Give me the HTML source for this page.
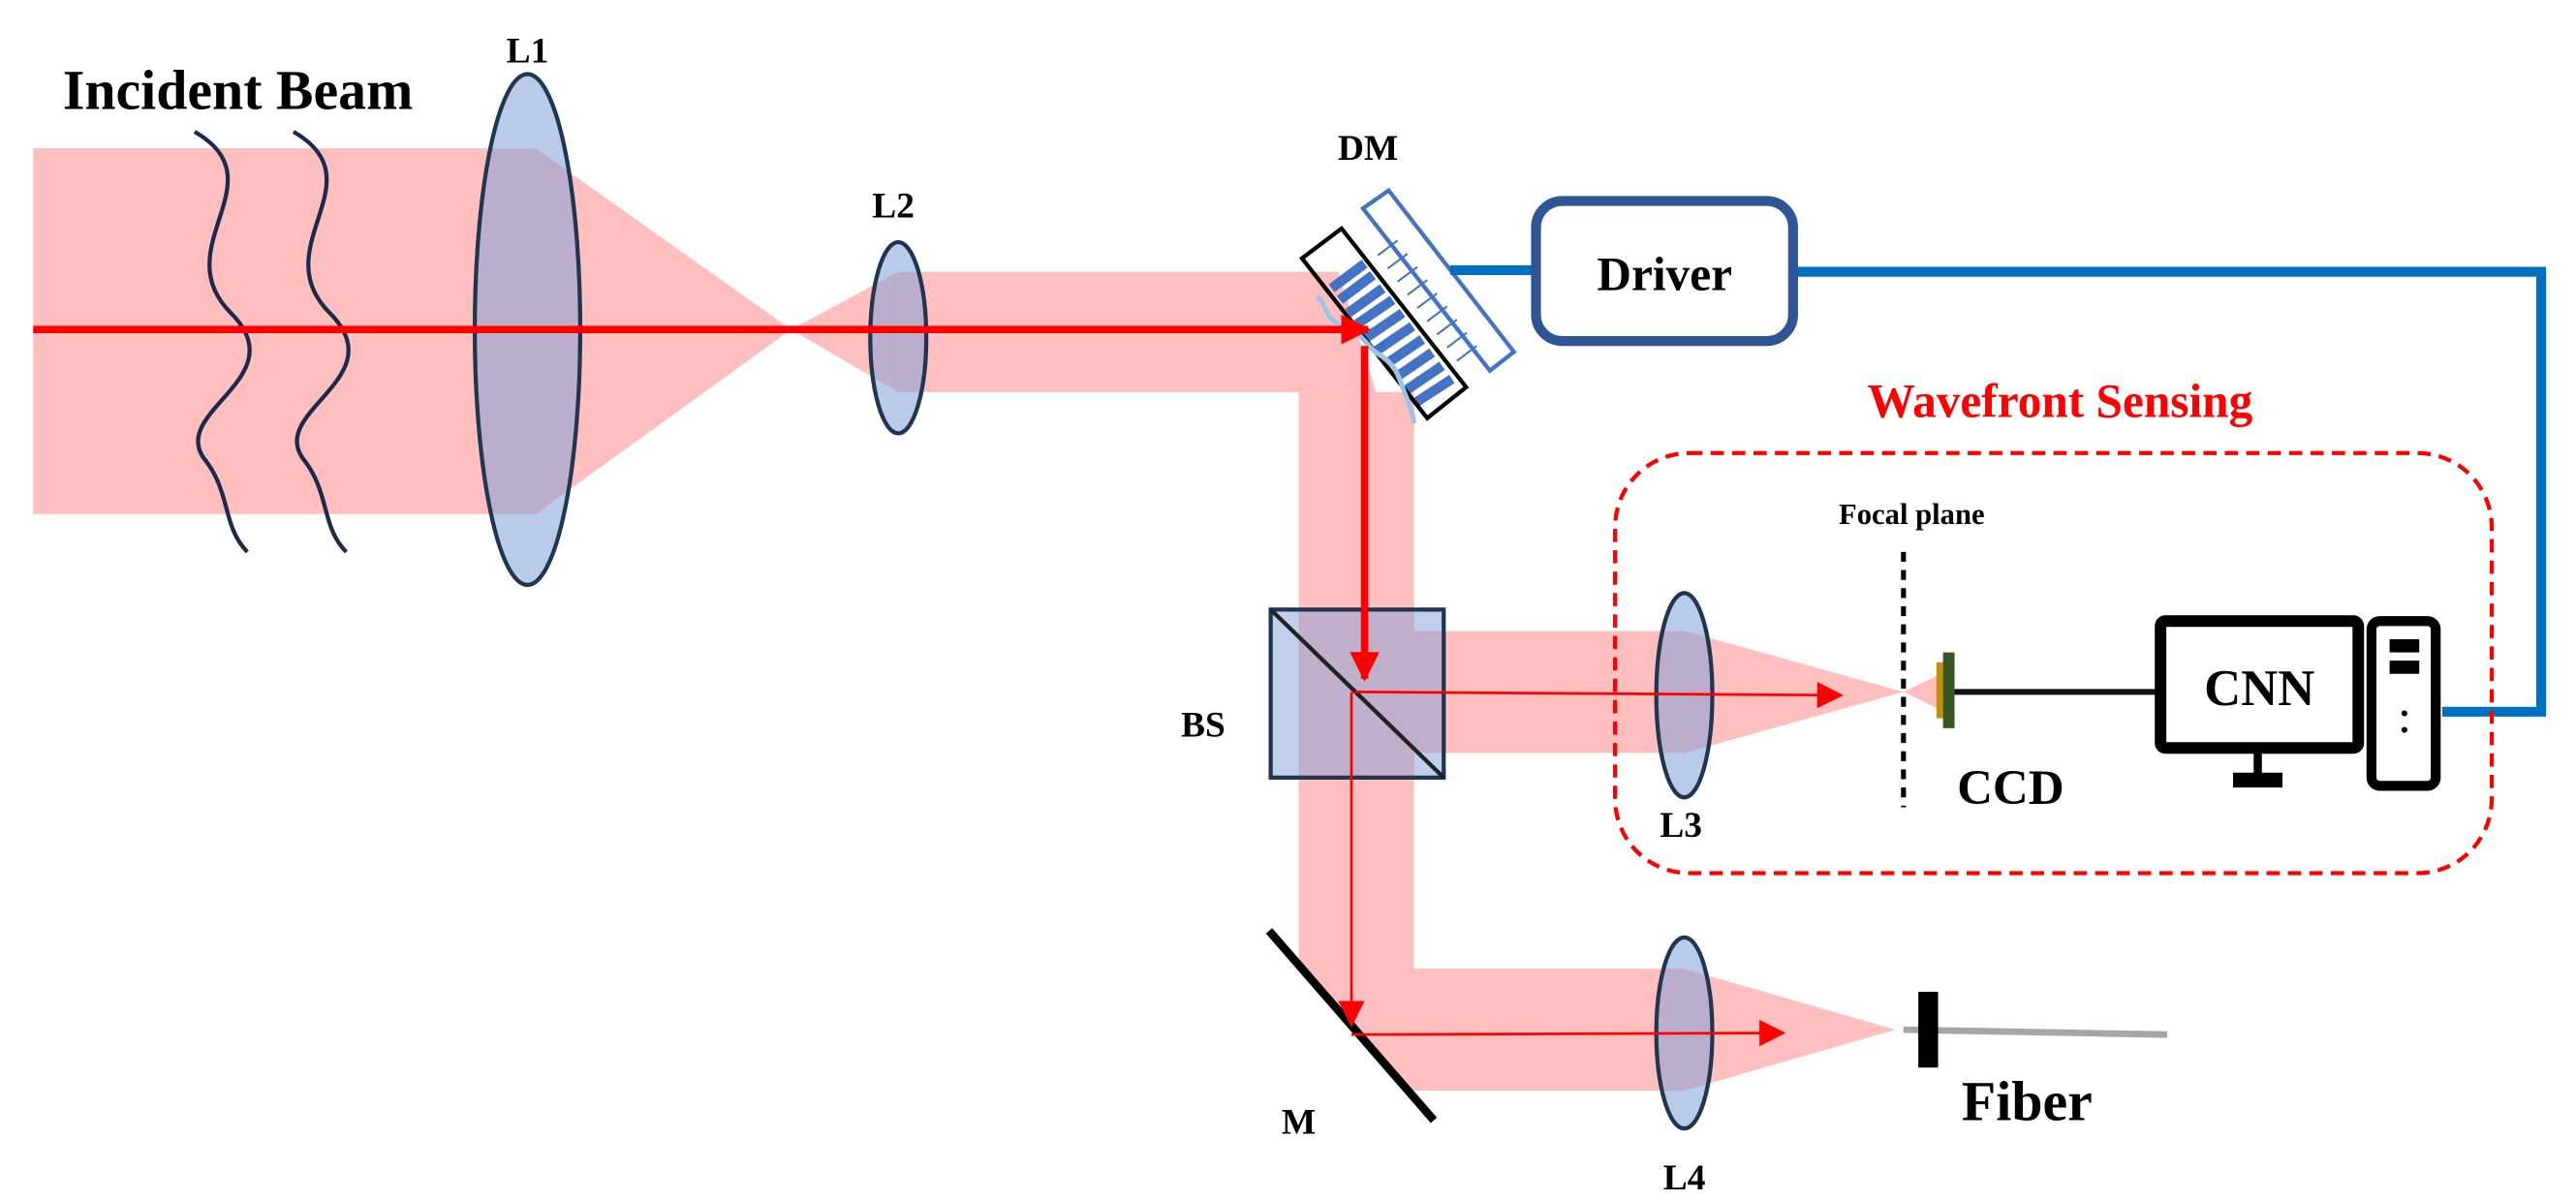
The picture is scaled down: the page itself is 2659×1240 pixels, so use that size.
<!DOCTYPE html>
<html><head><meta charset="utf-8"><style>
html,body{margin:0;padding:0;background:#fff;}
svg{display:block;}
text{font-family:"Liberation Serif",serif;font-weight:bold;}
</style></head><body>
<svg width="2659" height="1240" viewBox="0 0 1563 729" xmlns="http://www.w3.org/2000/svg">
<defs>
<marker id="ah" viewBox="0 0 10 10" refX="9" refY="5" markerWidth="4" markerHeight="4" orient="auto"><path d="M0,0 L10,5 L0,10 z" fill="#ff0000"/></marker>
<marker id="ah2" viewBox="0 0 10 10" refX="9" refY="5" markerWidth="10" markerHeight="10" orient="auto"><path d="M0,0 L10,5 L0,10 z" fill="#ff0000"/></marker>
</defs>
<g fill="#ffbfbf">
<polygon points="20,90 325,90 480,200 325,312 20,312"/>
<polygon points="480,200 545,165 545,238"/>
<polygon points="545,165 812,165 835,238 545,238"/>
<polygon points="788,238 858,238 858,588 1022,588 1150,625 1022,662 855,662 788,585"/>
<polygon points="858,383 1022,383 1155,420 1022,457 858,457"/>
<polygon points="1155,420 1182,407 1182,433"/>
</g>
<g fill="none" stroke="#1b2a4a" stroke-width="2.5">
<path d="M118,80 C170,110 100,150 140,190 C180,230 100,250 125,280 C140,300 135,320 150,335"/>
<path d="M178,80 C230,110 160,150 200,190 C240,230 160,250 185,280 C200,300 195,320 210,335"/>
</g>
<g fill="rgba(130,160,215,0.55)" stroke="#1f3550" stroke-width="2.5">
<ellipse cx="320" cy="200" rx="32" ry="155"/>
<ellipse cx="545" cy="205" rx="17" ry="58"/>
<ellipse cx="1022" cy="422" rx="17" ry="62"/>
<ellipse cx="1022" cy="627" rx="17" ry="58"/>
</g>
<rect x="771" y="370" width="105" height="102" fill="rgba(130,160,215,0.5)" stroke="#1f3550" stroke-width="2.5"/>
<line x1="771" y1="370" x2="876" y2="472" stroke="#222" stroke-width="2.5"/>
<line x1="770" y1="565" x2="870" y2="680" stroke="#000" stroke-width="5"/>
<polygon points="827,126.5 842.6,115.6 918.6,213.6 904,225" fill="#fff" stroke="#4472c4" stroke-width="2.5"/>
<g stroke="#4472c4" stroke-width="6">
<line x1="808" y1="175" x2="828" y2="160"/>
<line x1="813" y1="182" x2="833" y2="167"/>
<line x1="818" y1="190" x2="839" y2="175"/>
<line x1="823" y1="197" x2="845" y2="182"/>
<line x1="829" y1="205" x2="851" y2="190"/>
<line x1="835" y1="213" x2="857" y2="198"/>
<line x1="841" y1="221" x2="863" y2="206"/>
<line x1="847" y1="229" x2="869" y2="214"/>
<line x1="853" y1="237" x2="875" y2="222"/>
<line x1="858" y1="245" x2="881" y2="230"/>
</g>
<g stroke="#4472c4" stroke-width="1.2">
<line x1="836" y1="155" x2="848" y2="146"/><line x1="842" y1="163" x2="854" y2="154"/>
<line x1="848" y1="171" x2="860" y2="162"/><line x1="854" y1="179" x2="866" y2="170"/>
<line x1="860" y1="187" x2="872" y2="178"/><line x1="866" y1="195" x2="878" y2="186"/>
<line x1="872" y1="203" x2="884" y2="194"/><line x1="878" y1="211" x2="890" y2="202"/>
<line x1="884" y1="219" x2="896" y2="210"/>
</g>
<polygon points="790,156.8 814,138.7 889.6,235 866,253.8" fill="none" stroke="#000" stroke-width="2.5"/>
<path d="M799,180 C805,184 804,195 815,198 C826,201 829,210 835,214 C845,220 848,225 852,238 C855,245 857,250 858,257" fill="none" stroke="#9dc3e6" stroke-width="3"/>
<line x1="20" y1="200" x2="830" y2="200" stroke="#ff0000" stroke-width="4.5" marker-end="url(#ah)"/>
<line x1="828" y1="210" x2="828" y2="412" stroke="#ff0000" stroke-width="4.5" marker-end="url(#ah)"/>
<line x1="822" y1="420" x2="1117" y2="422" stroke="#ff0000" stroke-width="1.6" marker-end="url(#ah2)"/>
<line x1="820" y1="420" x2="820" y2="622" stroke="#ff0000" stroke-width="1.6" marker-end="url(#ah2)"/>
<line x1="820" y1="628" x2="1082" y2="627" stroke="#ff0000" stroke-width="1.6" marker-end="url(#ah2)"/>
<polyline points="880,164 932,164" fill="none" stroke="#0070c0" stroke-width="6"/>
<polyline points="1088,165 1542,165 1542,432 1482,432" fill="none" stroke="#0070c0" stroke-width="6"/>
<rect x="932" y="122" width="156" height="85" rx="16" fill="#fff" stroke="#2f5597" stroke-width="6"/>
<text x="1010" y="176" font-size="29" text-anchor="middle">Driver</text>
<rect x="980" y="275" width="532" height="255" rx="45" fill="none" stroke="#ff0000" stroke-width="2.5" stroke-dasharray="8,5"/>
<text x="1250" y="253" font-size="29" fill="#ff0000" text-anchor="middle">Wavefront Sensing</text>
<line x1="1155" y1="335" x2="1155" y2="490" stroke="#000" stroke-width="3" stroke-dasharray="6,5"/>
<text x="1160" y="318" font-size="18" text-anchor="middle">Focal plane</text>
<rect x="1175" y="402" width="4" height="34" fill="#bf9000"/>
<rect x="1179" y="396" width="7" height="46" fill="#375623"/>
<line x1="1186" y1="420" x2="1310" y2="420" stroke="#111" stroke-width="3.5"/>
<text x="1220" y="488" font-size="30" text-anchor="middle">CCD</text>
<rect x="1311" y="377" width="120" height="77" rx="3" fill="#fff" stroke="#000" stroke-width="7"/>
<text x="1371" y="428" font-size="31" text-anchor="middle">CNN</text>
<line x1="1370" y1="457" x2="1370" y2="472" stroke="#000" stroke-width="5"/>
<rect x="1355" y="469" width="30" height="9" fill="#000"/>
<rect x="1439" y="377" width="39" height="100" rx="5" fill="#fff" stroke="#000" stroke-width="6"/>
<rect x="1450" y="388" width="18" height="8" fill="#000"/>
<rect x="1450" y="401" width="18" height="8" fill="#000"/>
<circle cx="1459" cy="433" r="1.8" fill="#000"/>
<circle cx="1459" cy="443" r="1.8" fill="#000"/>
<line x1="1155" y1="625" x2="1315" y2="628" stroke="#a6a6a6" stroke-width="4"/>
<rect x="1164" y="602" width="12" height="46" fill="#000"/>
<text x="38" y="66" font-size="34">Incident Beam</text>
<text x="320" y="38" font-size="22" text-anchor="middle">L1</text>
<text x="542" y="132" font-size="22" text-anchor="middle">L2</text>
<text x="830" y="97" font-size="22" text-anchor="middle">DM</text>
<text x="730" y="447" font-size="22" text-anchor="middle">BS</text>
<text x="1020" y="508" font-size="22" text-anchor="middle">L3</text>
<text x="788" y="688" font-size="22" text-anchor="middle">M</text>
<text x="1022" y="722" font-size="22" text-anchor="middle">L4</text>
<text x="1230" y="680" font-size="34" text-anchor="middle">Fiber</text>
</svg>
</body></html>
